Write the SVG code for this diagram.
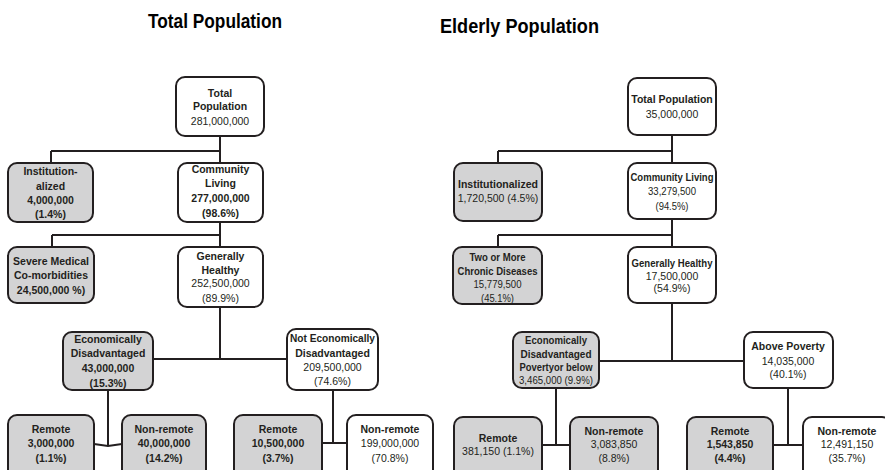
<svg xmlns="http://www.w3.org/2000/svg" width="885" height="470" viewBox="0 0 885 470">
<style>
.bg{fill:#ffffff}
.box{fill:#ffffff;stroke:#231f20;stroke-width:2}
.gray{fill:#d3d3d4}
.conn{stroke:#231f20;stroke-width:2;fill:none}
text{font-family:"Liberation Sans",Arial,sans-serif;fill:#231f20;text-anchor:middle;font-size:10.5px}
.b{font-weight:bold}
.title{font-size:21px;font-weight:bold;fill:#000}
</style>
<rect class="bg" x="0" y="0" width="885" height="470"/>
<text class="title" x="215" y="28" textLength="134" lengthAdjust="spacingAndGlyphs">Total Population</text>
<text class="title" x="519.5" y="33" textLength="159" lengthAdjust="spacingAndGlyphs">Elderly Population</text>

<g id="connectors">
<path class="conn" d="M220,136V163M51,151H220M51,151V163"/>
<path class="conn" d="M220,222V247M52,235H220M52,235V247"/>
<path class="conn" d="M220,307V359M153,359H287"/>
<path class="conn" d="M108,390V446M94,444L108,446L122,444"/>
<path class="conn" d="M333,390V443M322,443H347"/>
<path class="conn" d="M672,135V163M498,151H672M498,151V163"/>
<path class="conn" d="M672,219V247M498,235H672M498,235V247"/>
<path class="conn" d="M672,303V361M599,361H744"/>
<path class="conn" d="M556,388V445M542,445H570"/>
<path class="conn" d="M788,388V445M773,445H803"/>
</g>

<g id="l-total">
<rect class="box" x="176" y="77" width="88" height="59" rx="9"/>
<text class="b" x="220" y="96.7">Total</text>
<text class="b" x="220" y="110">Population</text>
<text x="220" y="125">281,000,000</text>
</g>
<g id="l-inst">
<rect class="box gray" x="8" y="163" width="85" height="59" rx="9"/>
<text class="b" x="50.5" y="175">Institution-</text>
<text class="b" x="50.5" y="189.5">alized</text>
<text class="b" x="50.5" y="203.5">4,000,000</text>
<text class="b" x="50.5" y="217.5">(1.4%)</text>
</g>
<g id="l-community">
<rect class="box" x="178" y="163" width="85" height="59" rx="9"/>
<text class="b" x="220.5" y="173">Community</text>
<text class="b" x="220.5" y="187">Living</text>
<text class="b" x="220.5" y="202">277,000,000</text>
<text class="b" x="220.5" y="217">(98.6%)</text>
</g>
<g id="l-severe">
<rect class="box gray" x="8" y="247" width="86" height="56" rx="9"/>
<text class="b" x="51" y="264.7">Severe Medical</text>
<text class="b" x="51" y="279">Co-morbidities</text>
<text class="b" x="51" y="294">24,500,000 %)</text>
</g>
<g id="l-healthy">
<rect class="box" x="178" y="247" width="85" height="60" rx="9"/>
<text class="b" x="220.5" y="260">Generally</text>
<text class="b" x="220.5" y="274">Healthy</text>
<text x="220.5" y="287">252,500,000</text>
<text x="220.5" y="302">(89.9%)</text>
</g>
<g id="l-econ">
<rect class="box gray" x="63" y="332" width="90" height="58" rx="9"/>
<text class="b" x="108" y="343">Economically</text>
<text class="b" x="108" y="357">Disadvantaged</text>
<text class="b" x="108" y="372">43,000,000</text>
<text class="b" x="108" y="387">(15.3%)</text>
</g>
<g id="l-notecon">
<rect class="box" x="287" y="329" width="91" height="61" rx="9"/>
<text class="b" x="332.5" y="342" textLength="85" lengthAdjust="spacingAndGlyphs">Not Economically</text>
<text class="b" x="332.5" y="357">Disadvantaged</text>
<text x="332.5" y="371">209,500,000</text>
<text x="332.5" y="385">(74.6%)</text>
</g>
<g id="l-remote1">
<rect class="box gray" x="8" y="415" width="86" height="70" rx="9"/>
<text class="b" x="51" y="433">Remote</text>
<text class="b" x="51" y="447">3,000,000</text>
<text class="b" x="51" y="462">(1.1%)</text>
</g>
<g id="l-nonremote1">
<rect class="box gray" x="122" y="415" width="84" height="70" rx="9"/>
<text class="b" x="164" y="433">Non-remote</text>
<text class="b" x="164" y="447">40,000,000</text>
<text class="b" x="164" y="462">(14.2%)</text>
</g>
<g id="l-remote2">
<rect class="box gray" x="234" y="415" width="88" height="70" rx="9"/>
<text class="b" x="278" y="433">Remote</text>
<text class="b" x="278" y="447">10,500,000</text>
<text class="b" x="278" y="462">(3.7%)</text>
</g>
<g id="l-nonremote2">
<rect class="box" x="347" y="415" width="86" height="70" rx="9"/>
<text class="b" x="390" y="433">Non-remote</text>
<text x="390" y="447">199,000,000</text>
<text x="390" y="462">(70.8%)</text>
</g>

<g id="r-total">
<rect class="box" x="628" y="78" width="88" height="57" rx="9"/>
<text class="b" x="672" y="103">Total Population</text>
<text x="672" y="118">35,000,000</text>
</g>
<g id="r-inst">
<rect class="box gray" x="454" y="163" width="88" height="58" rx="9"/>
<text class="b" x="498" y="188">Institutionalized</text>
<text x="498" y="202">1,720,500 (4.5%)</text>
</g>
<g id="r-community">
<rect class="box" x="628" y="163" width="88" height="56" rx="9"/>
<text class="b" x="672" y="181" textLength="83" lengthAdjust="spacingAndGlyphs">Community Living</text>
<text x="672" y="195" textLength="48" lengthAdjust="spacingAndGlyphs">33,279,500</text>
<text x="672" y="210" textLength="33" lengthAdjust="spacingAndGlyphs">(94.5%)</text>
</g>
<g id="r-chronic">
<rect class="box gray" x="453" y="247" width="89" height="57" rx="9"/>
<text class="b" x="497.5" y="260.7" textLength="56" lengthAdjust="spacingAndGlyphs">Two or More</text>
<text class="b" x="497.5" y="274.7" textLength="80" lengthAdjust="spacingAndGlyphs">Chronic Diseases</text>
<text x="497.5" y="288" textLength="48" lengthAdjust="spacingAndGlyphs">15,779,500</text>
<text x="497.5" y="302" textLength="33" lengthAdjust="spacingAndGlyphs">(45.1%)</text>
</g>
<g id="r-healthy">
<rect class="box" x="628" y="247" width="88" height="56" rx="9"/>
<text class="b" x="672" y="266.7" textLength="81" lengthAdjust="spacingAndGlyphs">Generally Healthy</text>
<text x="672" y="279.7">17,500,000</text>
<text x="672" y="292">(54.9%)</text>
</g>
<g id="r-econ">
<rect class="box gray" x="513" y="332" width="86" height="56" rx="9"/>
<text class="b" x="556" y="344" textLength="62" lengthAdjust="spacingAndGlyphs">Economically</text>
<text class="b" x="556" y="358" textLength="71" lengthAdjust="spacingAndGlyphs">Disadvantaged</text>
<text class="b" x="556" y="371" textLength="73" lengthAdjust="spacingAndGlyphs">Povertyor below</text>
<text x="556" y="384" textLength="74" lengthAdjust="spacingAndGlyphs">3,465,000 (9.9%)</text>
</g>
<g id="r-above">
<rect class="box" x="744" y="332" width="89" height="56" rx="9"/>
<text class="b" x="788" y="349.7">Above Poverty</text>
<text x="788" y="364.7">14,035,000</text>
<text x="788" y="378.3">(40.1%)</text>
</g>
<g id="r-remote1">
<rect class="box gray" x="454" y="417" width="88" height="70" rx="9"/>
<text class="b" x="498" y="441.7">Remote</text>
<text x="498" y="455">381,150 (1.1%)</text>
</g>
<g id="r-nonremote1">
<rect class="box gray" x="570" y="417" width="88" height="70" rx="9"/>
<text class="b" x="614" y="435">Non-remote</text>
<text x="614" y="448">3,083,850</text>
<text x="614" y="461.7">(8.8%)</text>
</g>
<g id="r-remote2">
<rect class="box gray" x="687" y="417" width="86" height="70" rx="9"/>
<text class="b" x="730" y="435">Remote</text>
<text class="b" x="730" y="448">1,543,850</text>
<text class="b" x="730" y="462">(4.4%)</text>
</g>
<g id="r-nonremote2">
<rect class="box" x="803" y="417" width="88" height="70" rx="9"/>
<text class="b" x="847" y="435">Non-remote</text>
<text x="847" y="448">12,491,150</text>
<text x="847" y="462">(35.7%)</text>
</g>
</svg>
